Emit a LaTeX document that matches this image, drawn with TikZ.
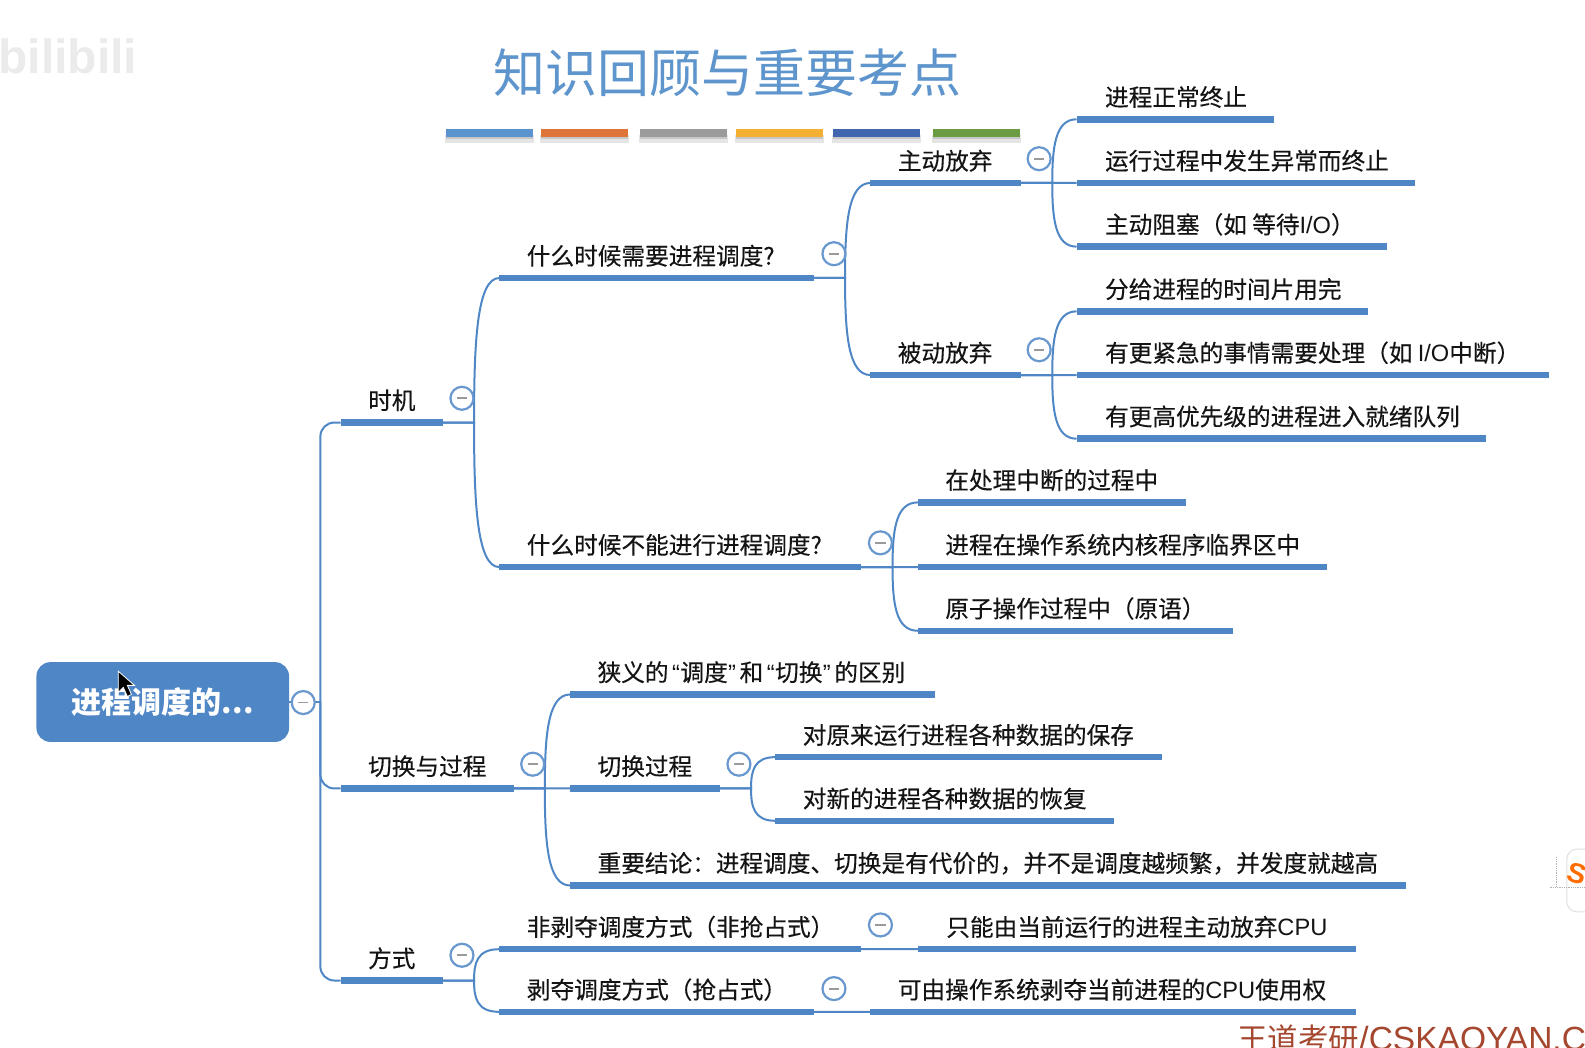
\documentclass[tikz,border=0pt]{standalone}
\usepackage{fontspec}
\setmainfont{Noto Sans CJK SC}
\newfontfamily\mapfont[FakeBold=0.3]{Noto Sans CJK SC}
\newfontfamily\lat{Liberation Sans}
\usetikzlibrary{calc}
\definecolor{mapblue}{HTML}{4F86C6}
\definecolor{titleblue}{HTML}{5D95CC}
\definecolor{minusgrey}{HTML}{9A9A9A}
\definecolor{wmred}{HTML}{A5472F}
\newcommand\tsz{\mapfont\fontsize{23.65}{28}\selectfont}
\newcommand\la[1]{{\lat #1}}
\newcommand\oq{\hspace{3.5pt}{\lat “}\hspace{0.5pt}}
\newcommand\cq{\hspace{0.5pt}{\lat ”}\hspace{3.5pt}}
\tikzset{
  x=1.0108pt,y=-1.0108pt,
  barnode/.style={fill=mapblue,inner sep=0pt,outer sep=0pt,minimum height=6.5pt},
  lab/.style={anchor=west,inner sep=0pt,font=\tsz,text=black!92},
  conn/.style={draw=mapblue,line width=2pt},
  collapse/.style={circle,draw=mapblue!85,line width=2.2pt,fill=white,minimum size=23pt,inner sep=0pt,
    path picture={\draw[minusgrey,line width=1.8pt] ($(path picture bounding box.center)+(-5,0)$) -- ($(path picture bounding box.center)+(5,0)$);}},
  deco/.style={minimum height=8.5pt,inner sep=0pt,outer sep=0pt},
}
% name, x1, x2, y, text x, text
\newcommand\tp[6]{%
  \node[barnode,minimum width={(#3-#2)*1.0108pt}] (#1) at ({(#2+#3)/2},#4) {};
  \node[lab] (#1t) at (#5,#4-22) {#6};
}
% parent bar to child bar
\newcommand\conn[2]{%
  \draw[conn] let \p1=(#1.east),\p2=(#2.west),\n1={\x1+31.3pt},\n2={0.45*\y1+0.55*\y2},\n3={\x1+34pt} in
    (\p1) -- (\n1,\y1) .. controls (\n1,\n2) and (\n3,\y2) .. (\p2);
}
\newcommand\rootconn[2]{%
  \draw[conn,rounded corners=14pt] let \p1=(#1.east),\p2=(#2.west),\n1={\x1+31.3pt} in
    (\n1,\y1) -- (\n1,\y2) -- (\p2);
}
\begin{document}
\begin{tikzpicture}
\useasboundingbox (0,0) rectangle (1568,1036);
\fill[white] (0,0) rectangle (1568,1036);

% watermark
\node[text=black!8,font=\lat\bfseries\fontsize{48}{56}\selectfont,inner sep=0pt] (wm) at (67,56) {bilibili};

% title and colour strip
\node[text=titleblue,font=\fontsize{52}{60}\selectfont,inner sep=0pt] (title) at (719.5,72) {知识回顾与重要考点};
\foreach \a/\b/\c/\n in {441/527/5B93CE/s1,535/621/DF7438/s2,633/719/9B9B9B/s3,728/814/F3B032/s4,824/910/3F66AE/s5,923/1009/6B9C43/s6}{
  \definecolor{cc}{HTML}{\c}
  \fill[black!10] (\a-1,134) rectangle (\b+1,141);
  \fill[black!22] (\a,134) rectangle (\b,138);
  \node[deco,fill=cc,minimum width={(\b-\a)*1.0108pt}] (\n) at ({(\a+\b)/2},131.5) {};
}

% root
\node[fill=mapblue,rounded corners=14pt,minimum width=252.6pt,minimum height=79.8pt,inner sep=0pt,outer sep=0pt,
      text=white,font=\bfseries\fontsize{30}{34}\selectfont] (root) at (161,694.5) {进程调度的...};

% first level
\tp{shiji}{337}{438}{418}{364}{时机}
\tp{qiehuan}{337}{508}{780}{364}{切换与过程}
\tp{fangshi}{337}{438}{970}{364}{方式}

% 时机
\tp{need}{494}{805}{275}{521}{什么时候需要进程调度?}
\tp{noneed}{494}{852}{561}{521}{什么时候不能进行进程调度?}
\tp{zhudong}{861}{1010}{181}{888}{主动放弃}
\tp{beidong}{861}{1010}{371}{888}{被动放弃}
\tp{a1}{1065}{1260}{118}{1093}{进程正常终止}
\tp{a2}{1065}{1400}{181}{1093}{运行过程中发生异常而终止}
\tp{a3}{1065}{1372}{244}{1093}{主动阻塞（如 等待\la{I/O}）}
\tp{b1}{1065}{1353}{308}{1093}{分给进程的时间片用完}
\tp{b2}{1065}{1532}{371}{1093}{有更紧急的事情需要处理（如 \la{I/O}中断）}
\tp{b3}{1065}{1470}{434}{1093}{有更高优先级的进程进入就绪队列}
\tp{c1}{908}{1173}{497}{935}{在处理中断的过程中}
\tp{c2}{908}{1313}{561}{935}{进程在操作系统内核程序临界区中}
\tp{c3}{908}{1220}{624}{935}{原子操作过程中（原语）}

% 切换与过程
\tp{d1}{564}{925}{687}{591}{狭义的\oq 调度\cq 和\oq 切换\cq 的区别}
\tp{d2}{564}{712}{780}{591}{切换过程}
\tp{d3}{564}{1391}{876}{591}{重要结论：进程调度、切换是有代价的，并不是调度越频繁，并发度就越高}
\tp{e1}{767}{1150}{749}{794}{对原来运行进程各种数据的保存}
\tp{e2}{767}{1102}{812}{794}{对新的进程各种数据的恢复}

% 方式
\tp{f1}{494}{852}{939}{521}{非剥夺调度方式（非抢占式）}
\tp{f2}{494}{805}{1001}{521}{剥夺调度方式（抢占式）}
\tp{g1}{908}{1341}{939}{936}{只能由当前运行的进程主动放弃\la{CPU}}
\tp{g2}{861}{1341}{1001}{888}{可由操作系统剥夺当前进程的\la{CPU}使用权}

% connectors
\draw[conn] let \p1=(root.east) in (\p1) -- (\x1+31.3pt,\y1);
\rootconn{root}{shiji}
\rootconn{root}{qiehuan}
\rootconn{root}{fangshi}
\conn{shiji}{need}
\conn{shiji}{noneed}
\conn{need}{zhudong}
\conn{need}{beidong}
\conn{zhudong}{a1}
\conn{zhudong}{a2}
\conn{zhudong}{a3}
\conn{beidong}{b1}
\conn{beidong}{b2}
\conn{beidong}{b3}
\conn{noneed}{c1}
\conn{noneed}{c2}
\conn{noneed}{c3}
\conn{qiehuan}{d1}
\conn{qiehuan}{d2}
\conn{qiehuan}{d3}
\conn{d2}{e1}
\conn{d2}{e2}
\conn{fangshi}{f1}
\conn{fangshi}{f2}
\conn{f1}{g1}
\conn{f2}{g2}

% collapse buttons
\node[collapse] (k0) at (300,695) {};
\node[collapse] (k1) at (457,394) {};
\node[collapse] (k2) at (527,756) {};
\node[collapse] (k3) at (457,945) {};
\node[collapse] (k4) at (825,251) {};
\node[collapse] (k5) at (871,537) {};
\node[collapse] (k6) at (1028,157) {};
\node[collapse] (k7) at (1028,346) {};
\node[collapse] (k8) at (731,756) {};
\node[collapse] (k9) at (871,915) {};
\node[collapse] (k10) at (825,978) {};

% mouse pointer
\fill[black,draw=white,line width=0.8pt] (117,664) -- (117,685) -- (122,680) -- (126,689) -- (130,687) -- (126,678) -- (133,678) -- cycle;

% side widget
\draw[black!12,fill=white,line width=1pt,rounded corners=10pt] (1550,840) rectangle (1590,902);
\draw[black!30,line width=0.8pt,densely dotted] (1540,848) -- (1540,878) (1533,878) -- (1570,878);
\node[text=orange!85!red,font=\lat\bfseries\fontsize{28}{32}\selectfont,rotate=-15,inner sep=0pt] (sogou) at (1560,864) {S};

% bottom text
\node[anchor=west,inner sep=0pt,text=wmred,font=\fontsize{30.5}{36}\selectfont] (site) at (1224,1028) {王道考研{\lat\fontsize{33.5}{36}\selectfont /CSKAOYAN.C}};
\end{tikzpicture}
\end{document}
